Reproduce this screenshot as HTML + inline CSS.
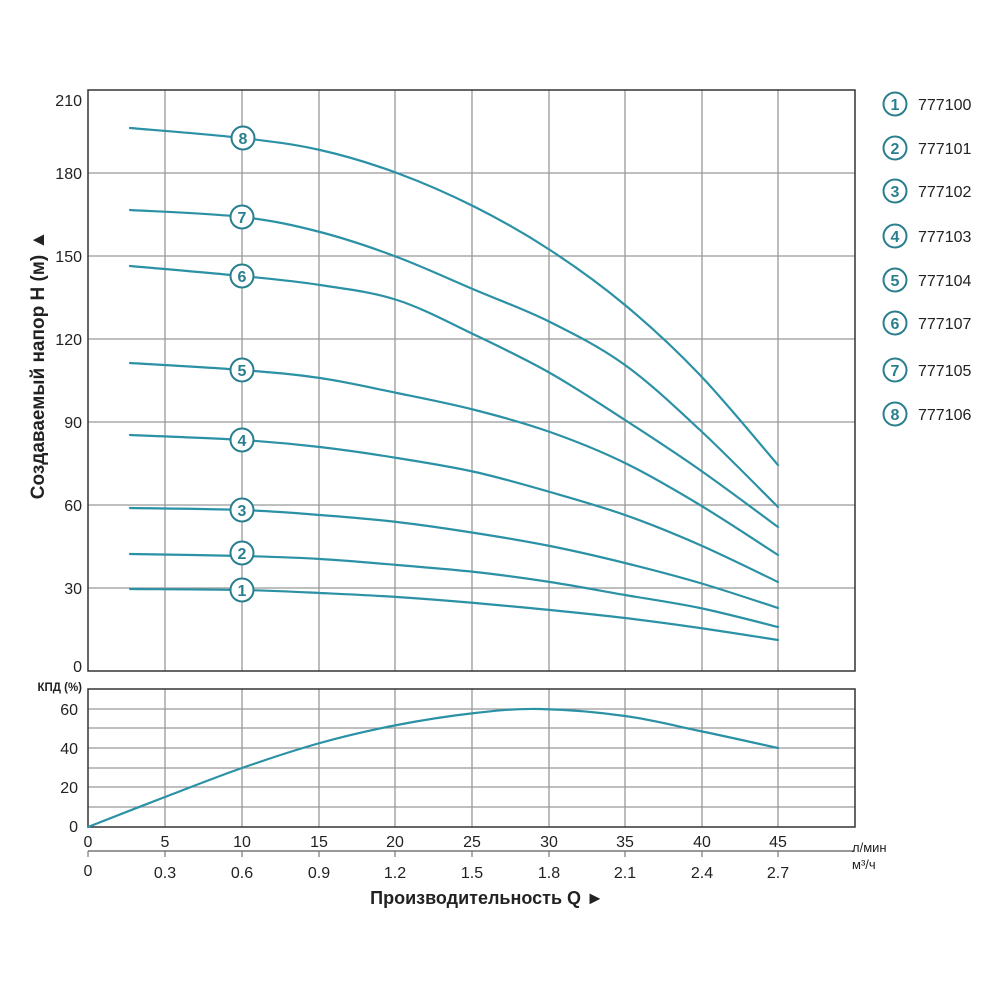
<!DOCTYPE html>
<html><head><meta charset="utf-8"><style>html,body{margin:0;padding:0;background:#fff}svg{display:block}</style></head>
<body>
<svg id="s" width="1000" height="1000" viewBox="0 0 1000 1000" xmlns="http://www.w3.org/2000/svg" font-family="Liberation Sans, sans-serif">
<rect width="1000" height="1000" fill="#fff"/>
<g stroke="#999" stroke-width="1.3">
<line x1="165" y1="90" x2="165" y2="671"/><line x1="242" y1="90" x2="242" y2="671"/><line x1="319" y1="90" x2="319" y2="671"/><line x1="395" y1="90" x2="395" y2="671"/><line x1="472" y1="90" x2="472" y2="671"/><line x1="549" y1="90" x2="549" y2="671"/><line x1="625" y1="90" x2="625" y2="671"/><line x1="702" y1="90" x2="702" y2="671"/><line x1="778" y1="90" x2="778" y2="671"/>
<line x1="88" y1="173" x2="855" y2="173"/><line x1="88" y1="256" x2="855" y2="256"/><line x1="88" y1="339" x2="855" y2="339"/><line x1="88" y1="422" x2="855" y2="422"/><line x1="88" y1="505" x2="855" y2="505"/><line x1="88" y1="588" x2="855" y2="588"/>
<line x1="165" y1="689" x2="165" y2="827"/><line x1="242" y1="689" x2="242" y2="827"/><line x1="319" y1="689" x2="319" y2="827"/><line x1="395" y1="689" x2="395" y2="827"/><line x1="472" y1="689" x2="472" y2="827"/><line x1="549" y1="689" x2="549" y2="827"/><line x1="625" y1="689" x2="625" y2="827"/><line x1="702" y1="689" x2="702" y2="827"/><line x1="778" y1="689" x2="778" y2="827"/>
<line x1="88" y1="709" x2="855" y2="709"/><line x1="88" y1="728" x2="855" y2="728"/><line x1="88" y1="748" x2="855" y2="748"/><line x1="88" y1="768" x2="855" y2="768"/><line x1="88" y1="787" x2="855" y2="787"/><line x1="88" y1="807" x2="855" y2="807"/>
</g>
<rect x="88" y="90" width="767" height="581" fill="none" stroke="#333" stroke-width="1.5"/>
<rect x="88" y="689" width="767" height="138" fill="none" stroke="#333" stroke-width="1.5"/>
<line x1="88" y1="851" x2="855" y2="851" stroke="#777" stroke-width="1.5"/>
<g stroke="#777" stroke-width="1.2">
<line x1="88" y1="851" x2="88" y2="857"/><line x1="165" y1="851" x2="165" y2="857"/><line x1="242" y1="851" x2="242" y2="857"/><line x1="319" y1="851" x2="319" y2="857"/><line x1="395" y1="851" x2="395" y2="857"/><line x1="472" y1="851" x2="472" y2="857"/><line x1="549" y1="851" x2="549" y2="857"/><line x1="625" y1="851" x2="625" y2="857"/><line x1="702" y1="851" x2="702" y2="857"/><line x1="778" y1="851" x2="778" y2="857"/>
</g>
<g font-size="16" fill="#222" text-anchor="end">
<text x="82" y="106">210</text><text x="82" y="179">180</text><text x="82" y="262">150</text><text x="82" y="345">120</text><text x="82" y="428">90</text><text x="82" y="511">60</text><text x="82" y="594">30</text><text x="82" y="672">0</text>
<text x="78" y="715">60</text><text x="78" y="754">40</text><text x="78" y="793">20</text><text x="78" y="832">0</text>
</g>
<text x="82" y="691" font-size="11.5" font-weight="bold" fill="#222" text-anchor="end">КПД (%)</text>
<g font-size="16" fill="#222" text-anchor="middle">
<text x="88" y="847">0</text><text x="165" y="847">5</text><text x="242" y="847">10</text><text x="319" y="847">15</text><text x="395" y="847">20</text><text x="472" y="847">25</text><text x="549" y="847">30</text><text x="625" y="847">35</text><text x="702" y="847">40</text><text x="778" y="847">45</text>
<text x="88" y="876">0</text><text x="165" y="878">0.3</text><text x="242" y="878">0.6</text><text x="319" y="878">0.9</text><text x="395" y="878">1.2</text><text x="472" y="878">1.5</text><text x="549" y="878">1.8</text><text x="625" y="878">2.1</text><text x="702" y="878">2.4</text><text x="778" y="878">2.7</text>
</g>
<text x="852" y="852" font-size="13" fill="#222">л/мин</text>
<text x="852" y="869" font-size="13" fill="#222">м³/ч</text>
<text x="487" y="904" font-size="18" font-weight="bold" fill="#222" text-anchor="middle">Производительность Q ►</text>
<text transform="translate(44,365) rotate(-90)" font-size="19" font-weight="bold" fill="#222" text-anchor="middle">Создаваемый напор H (м) ▲</text>
<g id="curves" fill="none" stroke="#2b91a5" stroke-width="2.2" stroke-linejoin="round" stroke-linecap="round">
<polyline points="130,128 242,138 320,150 397,173 475,207 550,250 625,305 700,375 778,465"/>
<polyline points="130,210 242,217 320,232 397,257 475,290 550,322 625,365 700,430 778,507"/>
<polyline points="130,266 242,276 320,285 397,300 475,335 550,373 625,420 700,470 778,527"/>
<polyline points="130,363 242,370 320,378 397,393 475,410 550,432 625,463 700,505 778,555"/>
<polyline points="130,435 242,440 320,447 397,458 475,472 550,492 625,515 700,545 778,582"/>
<polyline points="130,508 242,510 320,515 397,522 475,533 550,546 625,563 700,583 778,608"/>
<polyline points="130,554 242,556 320,559 397,565 475,572 550,582 625,595 700,608 778,627"/>
<polyline points="130,589 242,590 320,593 397,597 475,603 550,610 625,618 700,628 778,640"/>
<polyline points="88,827 165,797 242,768 320,743 397,725 475,713 540,709 625,716 700,731 778,748"/>
</g>
<g fill="#fff" stroke="#2a7f8f" stroke-width="2">
<circle cx="243" cy="138" r="11.5"/><circle cx="242" cy="217" r="11.5"/><circle cx="242" cy="276" r="11.5"/><circle cx="242" cy="370" r="11.5"/><circle cx="242" cy="440" r="11.5"/><circle cx="242" cy="510" r="11.5"/><circle cx="242" cy="553" r="11.5"/><circle cx="242" cy="590" r="11.5"/>
<circle cx="895" cy="104" r="11.5"/><circle cx="895" cy="148" r="11.5"/><circle cx="895" cy="191" r="11.5"/><circle cx="895" cy="236" r="11.5"/><circle cx="895" cy="280" r="11.5"/><circle cx="895" cy="323" r="11.5"/><circle cx="895" cy="370" r="11.5"/><circle cx="895" cy="414" r="11.5"/>
</g>
<g font-size="16" font-weight="bold" fill="#2a7f8f" text-anchor="middle">
<text x="243" y="144">8</text><text x="242" y="223">7</text><text x="242" y="282">6</text><text x="242" y="376">5</text><text x="242" y="446">4</text><text x="242" y="516">3</text><text x="242" y="559">2</text><text x="242" y="596">1</text>
<text x="895" y="110">1</text><text x="895" y="154">2</text><text x="895" y="197">3</text><text x="895" y="242">4</text><text x="895" y="286">5</text><text x="895" y="329">6</text><text x="895" y="376">7</text><text x="895" y="420">8</text>
</g>
<g font-size="16" fill="#222">
<text x="918" y="110">777100</text><text x="918" y="154">777101</text><text x="918" y="197">777102</text><text x="918" y="242">777103</text><text x="918" y="286">777104</text><text x="918" y="329">777107</text><text x="918" y="376">777105</text><text x="918" y="420">777106</text>
</g>
</svg>
<script>
(function(){
var ns="http://www.w3.org/2000/svg";
var pls=document.querySelectorAll('#curves polyline');
for(var k=0;k<pls.length;k++){
 var pl=pls[k];
 var p=pl.getAttribute('points').trim().split(/\s+/).map(function(s){var a=s.split(',');return [+a[0],+a[1]];});
 var d='M'+p[0][0]+','+p[0][1];
 for(var i=0;i<p.length-1;i++){
  var p0=p[i>0?i-1:i],p1=p[i],p2=p[i+1],p3=p[i+2<p.length?i+2:i+1];
  var c1x=p1[0]+(p2[0]-p0[0])/6,c1y=p1[1]+(p2[1]-p0[1])/6;
  var c2x=p2[0]-(p3[0]-p1[0])/6,c2y=p2[1]-(p3[1]-p1[1])/6;
  d+=' C'+c1x.toFixed(1)+','+c1y.toFixed(1)+' '+c2x.toFixed(1)+','+c2y.toFixed(1)+' '+p2[0]+','+p2[1];
 }
 var path=document.createElementNS(ns,'path');
 path.setAttribute('d',d);
 pl.parentNode.replaceChild(path,pl);
}
})();
</script>
</body></html>
